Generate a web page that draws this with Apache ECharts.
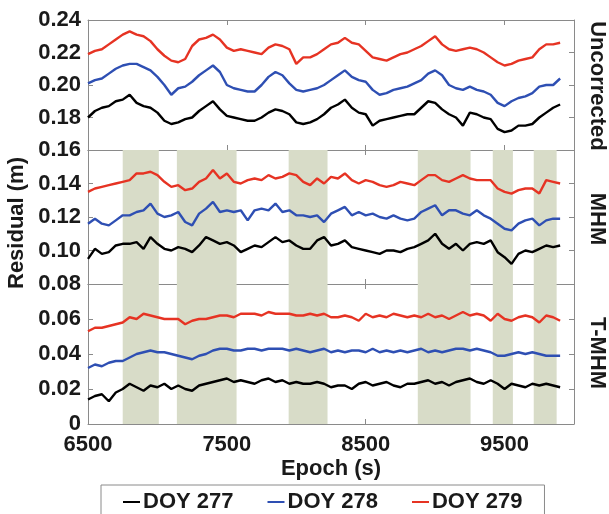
<!DOCTYPE html>
<html>
<head>
<meta charset="utf-8">
<script src="https://cdn.jsdelivr.net/npm/echarts@6/dist/echarts.min.js"></script>
<style>
html,body{margin:0;padding:0;background:#fff;}
#chart{width:609px;height:514px;}
</style>
</head>
<body>
<div id="chart"></div>
<script>
// Epoch (s)
const epochs = [6500,6550,6600,6650,6700,6750,6800,6850,6900,6950,
7000,7050,7100,7150,7200,7250,7300,7350,7400,7450,
7500,7550,7600,7650,7700,7750,7800,7850,7900,7950,
8000,8050,8100,8150,8200,8250,8300,8350,8400,8450,
8500,8550,8600,8650,8700,8750,8800,8850,8900,8950,
9000,9050,9100,9150,9200,9250,9300,9350,9400,9450,
9500,9550,9600,9650,9700,9750,9800,9850,9900];

// Uncorrected panel
const unc277 = [0.180,0.184,0.186,0.187,0.190,0.191,0.194,0.189,0.187,0.186,
0.183,0.178,0.176,0.177,0.179,0.180,0.184,0.187,0.190,0.185,
0.181,0.180,0.179,0.178,0.178,0.180,0.183,0.185,0.184,0.182,
0.177,0.176,0.177,0.179,0.182,0.186,0.188,0.191,0.186,0.183,
0.182,0.175,0.178,0.179,0.180,0.181,0.182,0.182,0.186,0.190,
0.189,0.185,0.182,0.180,0.175,0.183,0.182,0.180,0.179,0.173,
0.171,0.172,0.175,0.175,0.176,0.180,0.183,0.186,0.188];
const unc278 = [0.201,0.203,0.204,0.207,0.210,0.212,0.213,0.213,0.211,0.209,
0.205,0.200,0.194,0.198,0.199,0.202,0.206,0.209,0.212,0.208,
0.200,0.198,0.197,0.196,0.196,0.200,0.205,0.208,0.206,0.201,
0.197,0.196,0.197,0.198,0.200,0.203,0.206,0.209,0.205,0.203,
0.202,0.197,0.194,0.195,0.197,0.198,0.199,0.201,0.203,0.207,
0.209,0.206,0.200,0.198,0.197,0.199,0.197,0.196,0.194,0.189,
0.187,0.190,0.192,0.193,0.195,0.199,0.200,0.200,0.204];
const unc279 = [0.219,0.221,0.222,0.225,0.228,0.231,0.233,0.231,0.230,0.227,
0.222,0.218,0.215,0.214,0.216,0.224,0.228,0.229,0.231,0.228,
0.223,0.221,0.222,0.221,0.220,0.219,0.223,0.225,0.224,0.222,
0.213,0.217,0.217,0.219,0.222,0.225,0.226,0.229,0.226,0.225,
0.221,0.217,0.216,0.215,0.217,0.219,0.220,0.222,0.224,0.227,
0.230,0.225,0.222,0.221,0.222,0.223,0.222,0.220,0.217,0.214,
0.212,0.213,0.215,0.216,0.217,0.222,0.225,0.225,0.226];

// MHM panel
const mhm277 = [0.095,0.101,0.098,0.099,0.103,0.104,0.104,0.105,0.101,0.108,
0.104,0.101,0.100,0.102,0.101,0.099,0.103,0.108,0.106,0.104,
0.105,0.103,0.099,0.101,0.103,0.102,0.105,0.108,0.105,0.106,
0.103,0.101,0.101,0.106,0.108,0.103,0.104,0.106,0.102,0.101,
0.100,0.099,0.098,0.100,0.100,0.099,0.101,0.102,0.104,0.106,
0.110,0.104,0.101,0.104,0.100,0.104,0.105,0.104,0.106,0.099,
0.096,0.092,0.098,0.100,0.099,0.101,0.103,0.102,0.103];
const mhm278 = [0.116,0.119,0.116,0.115,0.118,0.121,0.121,0.123,0.124,0.128,
0.122,0.120,0.121,0.123,0.117,0.115,0.122,0.125,0.129,0.123,
0.124,0.123,0.124,0.118,0.124,0.125,0.124,0.128,0.123,0.124,
0.121,0.121,0.120,0.121,0.117,0.122,0.124,0.126,0.121,0.123,
0.121,0.122,0.120,0.119,0.121,0.119,0.118,0.119,0.123,0.125,
0.127,0.121,0.124,0.124,0.122,0.121,0.124,0.121,0.119,0.116,
0.113,0.112,0.116,0.118,0.119,0.115,0.118,0.119,0.119];
const mhm279 = [0.135,0.137,0.138,0.139,0.140,0.141,0.142,0.146,0.146,0.147,
0.145,0.141,0.138,0.139,0.136,0.137,0.141,0.143,0.148,0.143,
0.146,0.141,0.140,0.142,0.143,0.142,0.145,0.143,0.144,0.146,
0.145,0.141,0.139,0.143,0.140,0.144,0.143,0.146,0.142,0.140,
0.142,0.141,0.139,0.138,0.139,0.141,0.140,0.139,0.142,0.145,
0.145,0.142,0.141,0.143,0.145,0.143,0.142,0.142,0.142,0.137,
0.135,0.134,0.136,0.137,0.137,0.134,0.142,0.141,0.140];

// T-MHM panel
const tmhm277 = [0.014,0.016,0.017,0.013,0.018,0.020,0.023,0.021,0.019,0.022,
0.021,0.023,0.020,0.022,0.020,0.019,0.022,0.023,0.024,0.025,
0.026,0.024,0.025,0.024,0.023,0.025,0.026,0.024,0.025,0.023,
0.024,0.023,0.023,0.024,0.023,0.021,0.022,0.022,0.020,0.023,
0.024,0.022,0.023,0.024,0.022,0.021,0.023,0.023,0.024,0.025,
0.023,0.024,0.022,0.024,0.025,0.026,0.024,0.023,0.025,0.023,
0.020,0.023,0.022,0.021,0.023,0.022,0.023,0.022,0.021];
const tmhm278 = [0.032,0.034,0.033,0.035,0.036,0.036,0.038,0.040,0.041,0.042,
0.041,0.041,0.040,0.039,0.038,0.037,0.039,0.040,0.042,0.043,
0.043,0.042,0.042,0.043,0.043,0.042,0.043,0.043,0.043,0.042,
0.043,0.042,0.041,0.042,0.043,0.041,0.042,0.041,0.042,0.042,
0.041,0.043,0.041,0.042,0.041,0.042,0.041,0.042,0.043,0.041,
0.042,0.041,0.042,0.043,0.043,0.042,0.043,0.042,0.041,0.039,
0.039,0.040,0.041,0.040,0.041,0.040,0.039,0.039,0.039];
const tmhm279 = [0.053,0.055,0.055,0.056,0.057,0.058,0.061,0.060,0.063,0.062,
0.061,0.060,0.060,0.060,0.057,0.059,0.060,0.060,0.061,0.062,
0.062,0.061,0.063,0.063,0.063,0.062,0.064,0.063,0.063,0.063,
0.062,0.062,0.063,0.062,0.063,0.061,0.061,0.062,0.061,0.059,
0.063,0.061,0.062,0.061,0.063,0.062,0.061,0.062,0.061,0.063,
0.061,0.062,0.060,0.062,0.064,0.062,0.063,0.062,0.059,0.063,
0.060,0.059,0.061,0.062,0.061,0.058,0.062,0.061,0.059];

// Shaded periods (s)
const shadeStart = [6750,7140,7945,8875,9415,9710];
const shadeEnd   = [7010,7570,8225,9255,9560,9875];

const seriesNames = ['DOY 277','DOY 278','DOY 279'];
const seriesColors = ['#000000','#2e4fb3','#e63323'];
const panelNames = ['Uncorrected','MHM','T-MHM'];
const xTicks = [6500,7500,8500,9500];
const yRanges = [[0.16,0.24],[0.08,0.16],[0,0.08]];

const panelData = [[unc277,unc278,unc279],[mhm277,mhm278,mhm279],[tmhm277,tmhm278,tmhm279]];

const FONT = '"Liberation Sans", Arial, sans-serif';
const AX = '#8a8a8a';
const TXT = '#1a1a1a';
const grids = [
  {left:88, top:20, width:486, height:130},
  {left:88, top:150, width:486, height:134},
  {left:88, top:284, width:486, height:140}
];

const xAxes = [], yAxes = [], series = [];
for (let g = 0; g < 3; g++) {
  xAxes.push({
    type:'value', gridIndex:g, position:'bottom', min:6500, max:10000,
    axisLine:{show:true, onZero:false, lineStyle:{color:AX, width:1}},
    axisTick:{show:true, inside:true, length:5, customValues:xTicks, lineStyle:{color:AX}},
    axisLabel:{show:g===2, customValues:xTicks, fontSize:22, fontWeight:'bold', color:TXT, fontFamily:FONT, margin:10,
      formatter: v => String(v)},
    splitLine:{show:false},
    name: g===2 ? 'Epoch (s)' : '',
    nameLocation:'middle', nameGap:34,
    nameTextStyle:{fontSize:22, fontWeight:'bold', color:TXT, fontFamily:FONT}
  });
}
for (let g = 0; g < 3; g++) {
  xAxes.push({
    type:'value', gridIndex:g, position:'top', min:6500, max:10000,
    axisLine:{show:true, onZero:false, lineStyle:{color:AX, width:1}},
    axisTick:{show:true, inside:true, length:5, customValues:xTicks, lineStyle:{color:AX}},
    axisLabel:{show:false}, splitLine:{show:false}
  });
}
for (let g = 0; g < 3; g++) {
  yAxes.push({
    type:'value', gridIndex:g, position:'left', min:yRanges[g][0], max:yRanges[g][1], interval:0.02,
    axisLine:{show:true, onZero:false, lineStyle:{color:AX, width:1}},
    axisTick:{show:true, inside:true, length:5, lineStyle:{color:AX}},
    axisLabel:{show:true, fontSize:22, fontWeight:'bold', color:TXT, fontFamily:FONT, margin:7,
      showMaxLabel: g===0, showMinLabel:true,
      formatter: v => (Math.abs(v) < 1e-9 ? '0' : v.toFixed(2))},
    splitLine:{show:false}
  });
}
for (let g = 0; g < 3; g++) {
  yAxes.push({
    type:'value', gridIndex:g, position:'right', min:yRanges[g][0], max:yRanges[g][1], interval:0.02,
    axisLine:{show:true, onZero:false, lineStyle:{color:AX, width:1}},
    axisTick:{show:true, inside:true, length:5, lineStyle:{color:AX}},
    axisLabel:{show:false}, splitLine:{show:false}
  });
}

// shaded periods in MHM and T-MHM panels
for (let g = 1; g < 3; g++) {
  series.push({
    type:'line', name:'shade'+g, xAxisIndex:g, yAxisIndex:g, data:[], z:1, silent:true,
    markArea:{silent:true, itemStyle:{color:'#d8dcc8'},
      data: shadeStart.map((s,i)=>[{xAxis:s},{xAxis:shadeEnd[i]}])}
  });
}
for (let g = 0; g < 3; g++) {
  for (let k = 0; k < 3; k++) {
    series.push({
      type:'line', name:seriesNames[k], xAxisIndex:g, yAxisIndex:g, z:3,
      color:seriesColors[k], showSymbol:false, symbol:'none',
      lineStyle:{color:seriesColors[k], width:2.4},
      data: epochs.map((e,i)=>[e, panelData[g][k][i]])
    });
  }
}

const chart = echarts.init(document.getElementById('chart'), null, {renderer:'canvas'});
chart.setOption({
  animation:false,
  backgroundColor:'#ffffff',
  textStyle:{fontFamily:FONT},
  grid: grids,
  xAxis: xAxes,
  yAxis: yAxes,
  series: series,
  legend:{
    data: seriesNames.map((n,i)=>({name:n, icon:'rect', itemStyle:{color:seriesColors[i]}})),
    left:101, top:485, orient:'horizontal',
    itemWidth:17, itemHeight:2, itemGap:34,
    padding:[6,22,10,22],
    borderColor:'#8a8a8a', borderWidth:1,
    textStyle:{fontSize:22, fontWeight:'bold', color:TXT, fontFamily:FONT, padding:[0,0,0,-2]}
  },
  graphic:[
    {type:'text', x:17, y:223, rotation:Math.PI/2,
      style:{text:'Residual (m)', font:'bold 22px '+FONT, fill:TXT, textAlign:'center', textVerticalAlign:'middle'}},
    {type:'text', x:597, y:86, rotation:-Math.PI/2,
      style:{text:panelNames[0], font:'bold 22px '+FONT, fill:TXT, textAlign:'center', textVerticalAlign:'middle'}},
    {type:'text', x:597, y:219, rotation:-Math.PI/2,
      style:{text:panelNames[1], font:'bold 22px '+FONT, fill:TXT, textAlign:'center', textVerticalAlign:'middle'}},
    {type:'text', x:597, y:353, rotation:-Math.PI/2,
      style:{text:panelNames[2], font:'bold 22px '+FONT, fill:TXT, textAlign:'center', textVerticalAlign:'middle'}}
  ]
});
</script>
</body>
</html>
